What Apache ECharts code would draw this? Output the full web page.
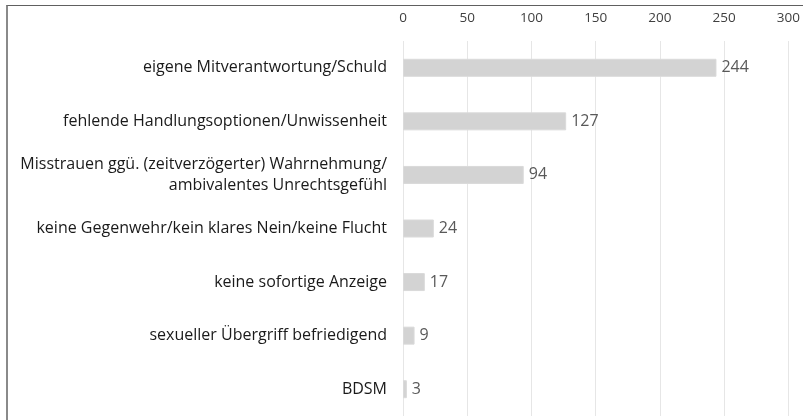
<!DOCTYPE html>
<html><head><meta charset="utf-8">
<script src="https://cdn.jsdelivr.net/npm/echarts@6/dist/echarts.min.js"></script>
<style>
html,body{margin:0;padding:0;background:#fff;}
#frame{position:absolute;left:6px;top:5px;width:797px;height:415px;border-top:1px solid #606060;border-left:2px solid #8a8a8a;}
#c{position:absolute;left:0;top:0;width:803px;height:420px;}
</style></head>
<body>
<div id="frame"></div>
<div id="c"></div>
<script>
const categories = [
  "eigene Mitverantwortung/Schuld",
  "fehlende Handlungsoptionen/Unwissenheit",
  "Misstrauen ggü. (zeitverzögerter) Wahrnehmung/\nambivalentes Unrechtsgefühl",
  "keine Gegenwehr/kein klares Nein/keine Flucht",
  "keine sofortige Anzeige",
  "sexueller Übergriff befriedigend",
  "BDSM"
];
const values = [244, 127, 94, 24, 17, 9, 3];
const xTicks = [0, 50, 100, 150, 200, 250, 300];

const chart = echarts.init(document.getElementById('c'));
chart.setOption({
  animation: false,
  grid: { left: 403, right: 13, top: 41, bottom: 4, containLabel: false },
  xAxis: {
    type: 'value', position: 'top', min: xTicks[0], max: xTicks[xTicks.length-1], interval: 50,
    axisLine: { show: false }, axisTick: { show: false },
    axisLabel: { margin: 16, color: '#404040', fontSize: 13.5, fontFamily: 'Open Sans' },
    splitLine: { lineStyle: { color: '#e6e6e6', width: 1 } }
  },
  yAxis: {
    type: 'category', data: categories, inverse: true,
    axisLine: { show: false }, axisTick: { show: false },
    axisLabel: { margin: 16, color: '#1a1a1a', fontSize: 16, fontFamily: 'Open Sans', align: 'right', lineHeight: 21 }
  },
  series: [{
    type: 'bar', data: values, barWidth: 18,
    itemStyle: { color: '#d3d3d3', borderColor: '#dadada', borderWidth: 1 },
    label: { show: true, position: 'right', distance: 5, color: '#595959', fontSize: 16, fontFamily: 'Open Sans' }
  }]
});
</script>
</body></html>
